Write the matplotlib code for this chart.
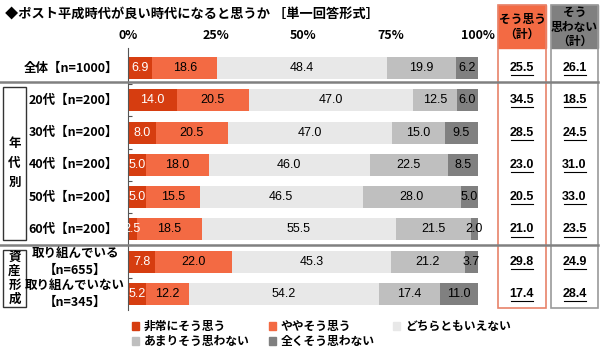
import matplotlib.pyplot as plt
from matplotlib.patches import Rectangle, Patch
from matplotlib.lines import Line2D
import numpy as np

plt.rcParams['font.family'] = ['Noto Sans CJK JP', 'DejaVu Sans']

title = '◆ポスト平成時代が良い時代になると思うか ［単一回答形式］'
rows = ['全体【n=1000】', '20代【n=200】', '30代【n=200】', '40代【n=200】',
        '50代【n=200】', '60代【n=200】', '取り組んでいる\n【n=655】', '取り組んでいない\n【n=345】']
categories = ['非常にそう思う', 'ややそう思う', 'どちらともいえない', 'あまりそう思わない', '全くそう思わない']
very_yes = [6.9, 14.0, 8.0, 5.0, 5.0, 2.5, 7.8, 5.2]
some_yes = [18.6, 20.5, 20.5, 18.0, 15.5, 18.5, 22.0, 12.2]
neutral = [48.4, 47.0, 47.0, 46.0, 46.5, 55.5, 45.3, 54.2]
some_no = [19.9, 12.5, 15.0, 22.5, 28.0, 21.5, 21.2, 17.4]
never = [6.2, 6.0, 9.5, 8.5, 5.0, 2.0, 3.7, 11.0]
total_yes = ['25.5', '34.5', '28.5', '23.0', '20.5', '21.0', '29.8', '17.4']
total_no = ['26.1', '18.5', '24.5', '31.0', '33.0', '23.5', '24.9', '28.4']
xticks = [0, 25, 50, 75, 100]
xticklabels = ['0%', '25%', '50%', '75%', '100%']

colors = ['#D63D10', '#F36A43', '#E8E8E8', '#BFBFBF', '#808080']
text_colors = ['white', 'black', 'black', 'black', 'black']

W, H = 600, 350
fig = plt.figure(figsize=(6, 3.5), dpi=100)


def fx(px):
    return px / W


def fy(py):
    return 1 - py / H


ax = fig.add_axes([fx(128), fy(310), fx(478) - fx(128), fy(48) - fy(310)])
series = [very_yes, some_yes, neutral, some_no, never]
y = np.arange(len(rows))
left = np.zeros(len(rows))
for vals, c, tc, name in zip(series, colors, text_colors, categories):
    vals = np.array(vals)
    ax.barh(y, vals, left=left, height=0.68, color=c, label=name)
    for i, v in enumerate(vals):
        ax.text(left[i] + v / 2, y[i], f'{v:.1f}', ha='center', va='center',
                fontsize=9, color=tc, family=['Liberation Sans', 'DejaVu Sans'])
    left += vals

ax.set_xlim(0, 100)
ax.set_ylim(7.5, -0.62)
ax.xaxis.tick_top()
ax.set_xticks(xticks)
ax.set_xticklabels(xticklabels, fontsize=9, fontweight='bold')
ax.tick_params(axis='x', length=0, pad=4)
ax.set_yticks(y[:-1] + 0.5)
ax.set_yticklabels([])
ax.tick_params(axis='y', direction='in', length=3, color='#555555')
for s in ['top', 'right', 'bottom']:
    ax.spines[s].set_visible(False)
ax.spines['left'].set_color('#555555')

# row labels
for i, r in enumerate(rows):
    ypx = 68 + i * 32.3
    if '\n' in r:
        fig.text(fx(75), fy(ypx), r, ha='center', va='center', fontsize=9,
                 fontweight='bold', linespacing=1.35, multialignment='center')
    else:
        fig.text(fx(118), fy(ypx), r, ha='right', va='center', fontsize=9, fontweight='bold')

# separator lines
for ypx in [82, 245]:
    fig.add_artist(Line2D([0, fx(598)], [fy(ypx), fy(ypx)], color='#808080', lw=1.8))

# group boxes
fig.add_artist(Rectangle((fx(3), fy(240)), fx(26) - fx(3), fy(87) - fy(240),
                         fill=False, ec='#333333', lw=1))
fig.text(fx(14.5), fy(163), '年\n代\n別', ha='center', va='center', fontsize=9,
         fontweight='bold', linespacing=1.6)
fig.add_artist(Rectangle((fx(3), fy(307)), fx(26) - fx(3), fy(250) - fy(307),
                         fill=False, ec='#333333', lw=1))
fig.text(fx(14.5), fy(278.5), '資\n産\n形\n成', ha='center', va='center', fontsize=9,
         fontweight='bold', linespacing=1.05)

# total columns
cols = [(498, 546, '#F36A43', '#E8836A', 'そう思う\n（計）', total_yes),
        (551, 598, '#808080', '#9A9A9A', 'そう\n思わない\n（計）', total_no)]
for x0, x1, fc, ec, head, vals in cols:
    fig.add_artist(Rectangle((fx(x0), fy(48)), fx(x1) - fx(x0), fy(5) - fy(48),
                             fc=fc, ec=fc, lw=1))
    fig.add_artist(Rectangle((fx(x0), fy(308)), fx(x1) - fx(x0), fy(5) - fy(308),
                             fill=False, ec=ec, lw=1.2))
    fig.text(fx((x0 + x1) / 2), fy(27), head, ha='center', va='center', fontsize=8.5,
             fontweight='bold', linespacing=1.15)
    for i, v in enumerate(vals):
        ypx = 68 + i * 32.3
        t = fig.text(fx((x0 + x1) / 2), fy(ypx), v, ha='center', va='center', fontsize=9,
                     fontweight='bold', family=['Liberation Sans', 'DejaVu Sans'])
        fig.add_artist(Line2D([fx((x0 + x1) / 2 - 11), fx((x0 + x1) / 2 + 11)],
                              [fy(ypx + 7), fy(ypx + 7)], color='black', lw=0.8))

# legend (row-major order via reordering)
handles = [Patch(color=c) for c in colors]
order = [0, 3, 1, 4, 2]
fig.legend([handles[k] for k in order], [categories[k] for k in order], ncol=3,
           loc='upper left', bbox_to_anchor=(fx(124), fy(312)), frameon=False,
           prop={'size': 8.5, 'weight': 'bold'}, handlelength=0.6, handleheight=0.6,
           handletextpad=0.4, columnspacing=1.6, labelspacing=0.15, borderpad=0.2)

fig.text(fx(5), fy(15), title, ha='left', va='center', fontsize=9.5, fontweight='bold')

fig.savefig('out.png', dpi=100)
